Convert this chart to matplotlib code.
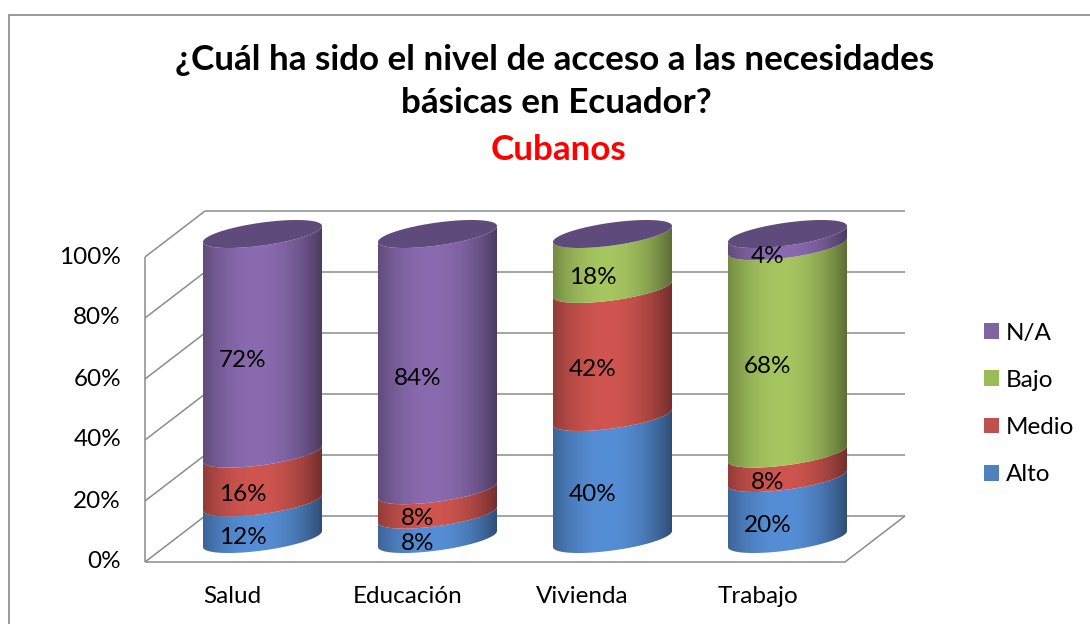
import numpy as np
import matplotlib
matplotlib.use("Agg")
import matplotlib.pyplot as plt
from matplotlib.path import Path
from matplotlib.patches import PathPatch, Patch, Rectangle

plt.rcParams['font.family'] = ['Lato', 'DejaVu Sans']

categories = ["Salud", "Educación", "Vivienda", "Trabajo"]
series = ["Alto", "Medio", "Bajo", "N/A"]
alto = [12, 8, 40, 20]
medio = [16, 8, 42, 8]
bajo = [0, 0, 18, 68]
na = [72, 84, 0, 4]
values = [alto, medio, bajo, na]
yticks = [0, 20, 40, 60, 80, 100]

# lit centre colour of each series (Office 2007 palette, brightened)
colors = {"Alto": (86, 142, 214), "Medio": (208, 85, 80),
          "Bajo": (166, 198, 96), "N/A": (138, 107, 176)}
legend_colors = {"Alto": "#4F81BD", "Medio": "#C0504D",
                 "Bajo": "#9BBB59", "N/A": "#8064A2"}
cap_color = "#5F4B7B"
fs = 17.5

W, H = 1090, 624
fig = plt.figure(figsize=(W / 100, H / 100), dpi=100)
ax = fig.add_axes([0, 0, 1, 1])
ax.set_axis_off()

# pixel scale of the data coords
sx, sy = 175.0, 3.05
x0px, y0px = 262.5, 539.0

dx, dy = 30 / sx, 23 / sy          # half depth of the 3D box
xl, xr = -0.5, len(categories) - 0.5
grid_kw = dict(color="#8c8c8c", lw=1.1, zorder=1, solid_capstyle="butt")

for p in yticks:
    ax.plot([xl - dx, xl + dx], [p - dy, p + dy], **grid_kw)
    ax.plot([xl + dx, xr + dx], [p + dy, p + dy], **grid_kw)
    ax.text(xl - dx - 24 / sx, p - dy, f"{p}%", ha="right", va="center",
            fontsize=fs)
ax.plot([xl - dx, xl - dx], [-dy, 100 - dy], **grid_kw)
ax.plot([xl - dx, xr - dx, xr + dx], [-dy, -dy, dy], **grid_kw)

# cylinder geometry (pixels)
a_px, b_px, k_px = 59.5, 11.5, 8.0
th_front = np.linspace(np.pi, 0, 80)      # left -> right along front arc


def arc(xc, p, th):
    xs = xc + a_px * np.cos(th) / sx
    ys = p - (b_px * np.sin(th) - k_px * np.cos(th)) / sy
    return xs, ys


def shade(rgb, n=240):
    t = np.linspace(0, 1, n)
    s = np.where(t < 0.45, 1 - 0.30 * ((0.45 - t) / 0.45) ** 2,
                 1 - 0.45 * ((t - 0.45) / 0.55) ** 2)
    base = np.array(rgb) / 255.0
    img = np.clip(base[None, :] * s[:, None], 0, 1)
    return img[None, :, :]


for i, cat in enumerate(categories):
    bottom = 0
    z = 3 + i
    for name, vals in zip(series, values):
        v = vals[i]
        if v <= 0:
            continue
        top = bottom + v
        bx, by = arc(i, bottom, th_front)
        tx, ty = arc(i, top, th_front[::-1])
        verts = np.vstack([np.column_stack([bx, by]),
                           np.column_stack([tx, ty]),
                           [[bx[0], by[0]]]])
        codes = [Path.MOVETO] + [Path.LINETO] * (len(verts) - 2) + [Path.CLOSEPOLY]
        patch = PathPatch(Path(verts, codes), facecolor="none",
                          edgecolor="none", zorder=z)
        ax.add_patch(patch)
        im = ax.imshow(shade(colors[name]), aspect="auto", zorder=z,
                       extent=[i - a_px / sx, i + a_px / sx,
                               bottom - 20 / sy, top + 20 / sy],
                       interpolation="bilinear")
        im.set_clip_path(patch)
        ax.text(i - 20 / sx, (bottom + top) / 2 - 16.5 / sy, f"{v}%",
                ha="center", va="center", fontsize=fs, zorder=20)
        bottom = top
    cx, cy = arc(i, 100, np.linspace(0, 2 * np.pi, 160))
    ax.fill(cx, cy, color=cap_color, lw=0, zorder=z + 0.5)
    ax.text(i - dx, -19, cat, ha="center", va="center", fontsize=fs)

ax.set_xlim(-x0px / sx, (W - x0px) / sx)
ax.set_ylim((y0px - H) / sy, y0px / sy)

# titles
fig.text(555 / W, 1 - 60 / H, "¿Cuál ha sido el nivel de acceso a las necesidades",
         ha="center", va="center", fontsize=25.2, fontweight="bold")
fig.text(556 / W, 1 - 103 / H, "básicas en Ecuador?",
         ha="center", va="center", fontsize=25.2, fontweight="bold")
fig.text(558 / W, 1 - 150 / H, "Cubanos", ha="center", va="center",
         fontsize=25.2, fontweight="bold", color="#FF0000")

handles = [Patch(facecolor=legend_colors[s], edgecolor="none") for s in series[::-1]]
fig.legend(handles, series[::-1], loc="center left",
           bbox_to_anchor=(962 / W, 1 - 404 / H), frameon=False,
           fontsize=fs, handlelength=0.62, handleheight=0.62,
           handletextpad=0.3, labelspacing=1.08)

fig.patches.append(Rectangle((9 / W, -0.1), 1.2, 1 - 15 / H + 0.1,
                             transform=fig.transFigure, fill=False,
                             ec="#878787", lw=1.2))

fig.savefig("out.png", dpi=100)
